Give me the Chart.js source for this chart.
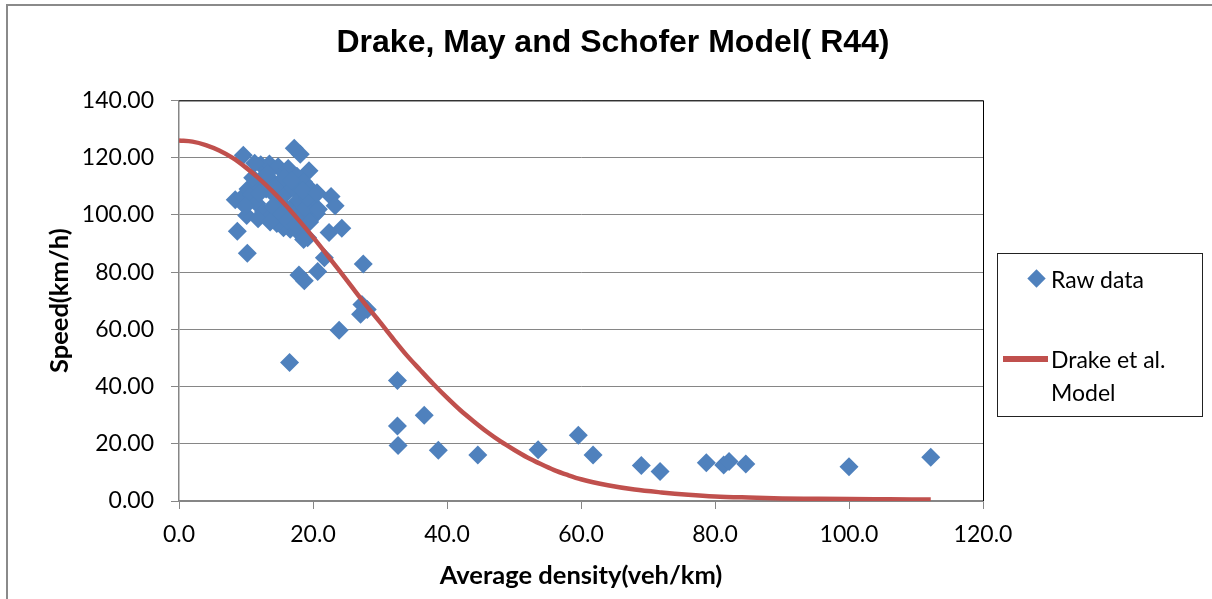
<!DOCTYPE html>
<html>
<head>
<meta charset="utf-8">
<script src="https://cdn.jsdelivr.net/npm/chart.js@4"></script>
<style>
html,body{margin:0;padding:0;background:#fff;}
#wrap{position:relative;width:1212px;height:599px;overflow:hidden;background:#fff;}
#c{position:absolute;left:0;top:0;}
#legend{position:absolute;left:997px;top:253px;width:204px;height:162px;border:1px solid #222;font-family:Lato,"Open Sans",sans-serif;font-size:23px;color:#000;}
#legend .mk{position:absolute;left:32px;top:18px;width:13px;height:13px;background:#4F81BD;transform:rotate(45deg);}
#legend .ln{position:absolute;left:5px;top:102px;width:45px;height:6px;background:#C0504D;}
#legend .t{position:absolute;left:53px;white-space:nowrap;line-height:30px;}
</style>
</head>
<body>
<div id="wrap">
<canvas id="c" width="1212" height="599"></canvas>
<div id="legend"></div>
</div>
<script>
const titleText = 'Drake, May and Schofer Model( R44)';
const xAxisTitle = 'Average density(veh/km)';
const yAxisTitle = 'Speed(km/h)';
const rawLabel = 'Raw data';
const modelLabel = ['Drake et al.', 'Model'];

const xTickValues = [0, 20, 40, 60, 80, 100, 120];
const xTickLabels = ['0.0', '20.0', '40.0', '60.0', '80.0', '100.0', '120.0'];
const yTickValues = [0, 20, 40, 60, 80, 100, 120, 140];
const yTickLabels = ['0.00', '20.00', '40.00', '60.00', '80.00', '100.00', '120.00', '140.00'];

const rawDensity = [
  9.6, 17.2, 18.1, 19.4, 8.4, 9.6, 8.7, 10.2, 22.7, 23.3, 24.3, 22.4, 21.7, 27.5, 17.9, 18.7, 20.7,
  27.3, 28.1, 27.1, 23.9, 16.5, 32.6, 36.6, 32.6, 32.7, 38.7, 44.6, 53.6, 59.6, 61.8, 69.0, 71.8,
  78.7, 81.3, 82.1, 84.6, 100.0, 112.2,
  12.2, 13.5, 14.8, 16.3, 17.6, 18.6, 19.6, 20.2, 10.3, 10.8, 11.6, 12.6, 13.5, 14.6, 15.6, 16.6,
  17.8, 19.2, 20.0, 20.5, 19.8, 11.5, 12.5, 13.0, 13.8, 14.2, 14.8, 15.2, 15.7, 16.0, 16.5, 17.0,
  17.3, 17.8, 18.2, 18.8, 19.2, 14.0, 15.3, 16.2, 12.0, 11.0, 13.2, 16.8, 18.4, 19.5, 17.5,
  10.1, 11.8, 13.6, 20.8, 20.6, 11.3, 9.9, 18.6
];
const rawSpeed = [
  120.8, 123.3, 121.2, 115.4, 105.3, 106.5, 94.3, 86.6, 106.4, 103.2, 95.3, 93.8, 85.0, 82.8, 79.0, 77.0, 80.2,
  68.7, 66.9, 65.3, 59.7, 48.4, 42.1, 30.0, 26.2, 19.4, 17.7, 16.1, 17.9, 23.0, 16.1, 12.4, 10.3,
  13.4, 12.6, 13.8, 12.9, 12.0, 15.3,
  117.5, 117.8, 116.8, 116.2, 113.5, 111.5, 109.0, 106.5, 109.0, 107.0, 104.0, 101.0, 99.0, 97.0, 95.5, 95.0,
  94.0, 92.0, 99.5, 100.5, 103.5, 111.0, 113.0, 109.0, 112.0, 107.0, 110.5, 104.0, 113.0, 107.5, 102.0, 109.5,
  100.5, 105.0, 98.5, 102.5, 106.0, 103.0, 100.0, 98.0, 107.5, 113.0, 114.5, 112.0, 108.5, 97.5, 96.5,
  99.8, 98.6, 97.5, 102.0, 107.7, 118.0, 103.0, 91.4
];

const modelDensity = [
  0, 2, 4, 6, 8, 10, 12, 14, 16, 18, 20, 22, 24, 26, 28, 30, 32, 34, 36, 38, 40,
  42, 44, 46, 48, 50, 52, 54, 56, 58, 60, 64, 68, 72, 76, 80, 85, 90, 95, 100, 106, 112.2
];
const modelSpeed = [
  126.0, 125.6, 124.4, 122.5, 119.9, 116.5, 112.6, 108.1, 103.2, 97.8, 92.2, 86.3, 80.3, 74.2, 68.2, 62.5, 56.6, 50.9, 45.8, 40.8, 36.1,
  31.7, 27.8, 24.1, 20.8, 17.9, 15.2, 12.9, 10.8, 9.1, 7.6, 5.5, 4.0, 3.0, 2.2, 1.6, 1.2, 0.9, 0.8, 0.7, 0.6, 0.5
];

// legend (real text)
const lg = document.getElementById('legend');
lg.innerHTML =
  '<div class="mk"></div><div class="t" style="top:10px">' + rawLabel + '</div>' +
  '<div class="ln"></div><div class="t" style="top:90px">' + modelLabel[0] + '</div>' +
  '<div class="t" style="top:123px">' + modelLabel[1] + '</div>';

const rawPoints = rawDensity.map((x, i) => ({x: x, y: rawSpeed[i]}));
const modelPoints = modelDensity.map((x, i) => ({x: x, y: modelSpeed[i]}));

const frame = {
  id: 'frame',
  beforeDatasetsDraw(chart) {
    const {ctx, chartArea: a} = chart;
    ctx.save();
    ctx.strokeStyle = '#000';
    ctx.lineWidth = 1;
    ctx.beginPath();
    ctx.moveTo(a.left, a.top + 0.5);
    ctx.lineTo(a.right, a.top + 0.5);
    ctx.moveTo(a.right + 0.5, a.top);
    ctx.lineTo(a.right + 0.5, a.bottom);
    ctx.stroke();
    ctx.restore();
  },
  afterDraw(chart) {
    const ctx = chart.ctx;
    ctx.save();
    ctx.strokeStyle = '#8a8a8a';
    ctx.lineWidth = 2;
    ctx.strokeRect(7, 5, 1215, 700);
    ctx.restore();
  }
};

const GRID = '#868686';

new Chart(document.getElementById('c'), {
  type: 'scatter',
  data: {
    datasets: [
      {
        label: rawLabel,
        data: rawPoints,
        order: 1,
        pointStyle: 'rectRot',
        pointRadius: 9.5,
        pointHoverRadius: 9.5,
        backgroundColor: '#4F81BD',
        borderColor: '#4F81BD',
        borderWidth: 0
      },
      {
        label: modelLabel.join(' '),
        data: modelPoints,
        order: 0,
        showLine: true,
        pointRadius: 0,
        borderColor: '#C0504D',
        backgroundColor: '#C0504D',
        borderWidth: 4.5,
        cubicInterpolationMode: 'monotone'
      }
    ]
  },
  options: {
    responsive: false,
    animation: false,
    devicePixelRatio: 1,
    layout: {padding: {left: 14, right: 0, top: 0, bottom: 0}},
    plugins: {
      legend: {display: false},
      tooltip: {enabled: false},
      title: {
        display: true,
        text: titleText,
        color: '#000',
        font: {family: '"Liberation Sans", Arial, sans-serif', size: 32, weight: 'bold'},
        padding: {top: 24, bottom: 38}
      }
    },
    scales: {
      x: {
        type: 'linear',
        min: 0, max: 120,
        afterBuildTicks: (s) => { s.ticks = xTickValues.map(v => ({value: v})); },
        afterFit: (s) => { s.height = 98; },
        ticks: {
          color: '#000',
          font: {family: 'Lato, sans-serif', size: 23},
          padding: 12,
          maxRotation: 0,
          callback: (v) => xTickLabels[xTickValues.indexOf(v)]
        },
        grid: {drawOnChartArea: false, drawTicks: true, tickLength: 8, color: GRID, lineWidth: 1},
        border: {color: GRID, width: 1.5},
        title: {
          display: true, text: xAxisTitle, color: '#000',
          font: {family: 'Lato, sans-serif', size: 25.5, weight: 'bold'},
          padding: {top: 0, bottom: 8}
        }
      },
      y: {
        type: 'linear',
        min: 0, max: 140,
        afterBuildTicks: (s) => { s.ticks = yTickValues.map(v => ({value: v})); },
        afterFit: (s) => { s.width = 165; },
        ticks: {
          color: '#000',
          font: {family: 'Lato, sans-serif', size: 23},
          padding: 17,
          callback: (v) => yTickLabels[yTickValues.indexOf(v)]
        },
        grid: {drawOnChartArea: true, drawTicks: true, tickLength: 8, color: GRID, lineWidth: 1},
        border: {color: GRID, width: 1.5},
        title: {
          display: true, text: yAxisTitle, color: '#000',
          font: {family: 'Lato, sans-serif', size: 25.5, weight: 'bold'},
          padding: {top: 30, bottom: 0}
        }
      },
      spacer: {
        type: 'linear',
        position: 'right',
        display: true,
        afterFit: (s) => { s.width = 229; },
        ticks: {display: false},
        grid: {display: false, drawTicks: false},
        border: {display: false},
        title: {display: false}
      }
    }
  },
  plugins: [frame]
});
</script>
</body>
</html>
